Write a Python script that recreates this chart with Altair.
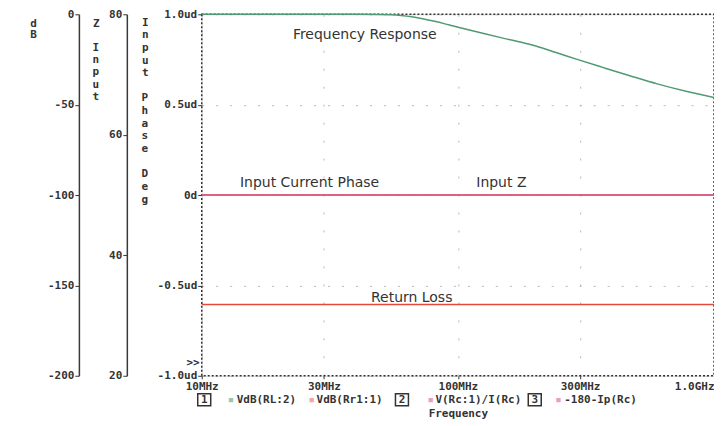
import altair as alt
import pandas as pd

# ---------------- data ----------------
# Frequency response VdB(RL:2)  (MHz, dB)
resp_freq = [10, 20, 40, 50, 55, 60, 66, 72, 82, 92, 104, 125, 150, 190, 240, 290, 370, 469, 600, 800, 1000]
resp_db = [0.0, 0.0, 0.0, -0.05, -0.25, -0.7, -1.4, -2.3, -4.0, -5.8, -7.7, -10.5, -13.2, -16.6, -21.0, -24.8, -29.5, -34.0, -38.5, -43.0, -46.0]

# Return loss VdB(Rr1:1) (dB)
rl_freq = [10, 1000]
rl_db = [-160.5, -160.5]

# Input Z  V(Rc:1)/I(Rc) (ohm)
z_freq = [10, 1000]
z_ohm = [50.0, 50.0]

# Input current phase  -180-Ip(Rc) (ud)
ph_freq = [10, 1000]
ph_ud = [0.0, 0.0]

# annotation texts (placed in phase-axis data coordinates)
ann_text = ["Frequency Response", "Input Current Phase", "Input Z", "Return Loss"]
ann_freq = [22.7, 14.1, 118, 45.8]
ann_ud = [0.884, 0.064, 0.064, -0.568]

legend_labels = ["VdB(RL:2)", "VdB(Rr1:1)", "V(Rc:1)/I(Rc)", "-180-Ip(Rc)"]
legend_nums = ["1", "2", "3"]

x_ticks = [10, 30, 100, 300, 1000]
db_ticks = [-200, -150, -100, -50, 0]
z_ticks = [20, 40, 60, 80]
ph_ticks = [-1.0, -0.5, 0.0, 0.5, 1.0]

# ---------------- styles ----------------
GREEN = "#4f9a72"
PINK = "#d9587e"
RED = "#e5473a"
INK = "#333333"
MONO = "DejaVu Sans Mono"
W, H = 513, 362

resp_df = pd.DataFrame({"f": resp_freq, "v": resp_db})
rl_df = pd.DataFrame({"f": rl_freq, "v": rl_db})
z_df = pd.DataFrame({"f": z_freq, "v": z_ohm})
ph_df = pd.DataFrame({"f": ph_freq, "v": ph_ud})
ann_df = pd.DataFrame({"f": ann_freq, "v": ann_ud, "t": ann_text})

x_enc = alt.X(
    "f:Q",
    scale=alt.Scale(type="log", domain=[10, 1000], nice=False),
    axis=alt.Axis(
        values=x_ticks,
        labelExpr="datum.value == 10 ? '10MHz' : datum.value == 30 ? '30MHz' : datum.value == 100 ? '100MHz' : datum.value == 300 ? '300MHz' : '1.0GHz'",
        labelAlign={"condition": {"test": "datum.value >= 1000", "value": "right"}, "value": "center"},
        labelFlush=False,
        labelFont=MONO,
        labelFontWeight="bold",
        labelFontSize=11,
        labelColor=INK,
        labelPadding=2,
        domain=False,
        grid=True,
        gridDash=[2, 16],
        gridColor="#b8b8b8",
        tickSize=3,
        tickColor=INK,
        title="Frequency",
        titleFont=MONO,
        titleFontWeight="bold",
        titleFontSize=11,
        titleColor=INK,
        titlePadding=16,
    ),
)

common_axis = dict(
    orient="left",
    labelFont=MONO,
    labelFontWeight="bold",
    labelFontSize=11,
    labelColor=INK,
    titleFont=MONO,
    titleFontWeight="bold",
    titleFontSize=11,
    titleColor=INK,
    titleAngle=0,
    titleAlign="center",
    titleBaseline="top",
    tickColor=INK,
    tickSize=4,
    labelPadding=1,
)

db_y = alt.Y(
    "v:Q",
    scale=alt.Scale(domain=[-200, 0], nice=False, zero=False),
    axis=alt.Axis(
        values=db_ticks,
        labelExpr="datum.value < 0 ? '-' + abs(datum.value) : '' + datum.value",
        offset=123,
        domain=True,
        domainColor="#3a3a3a",
        domainWidth=1.5,
        grid=False,
        title=["d", "B"],
        titleX=-46,
        titleY=3,
        titleLineHeight=11.5,
        **common_axis,
    ),
)

Z_LH = 12.3
z_y = alt.Y(
    "v:Q",
    scale=alt.Scale(domain=[20, 80], nice=False, zero=False),
    axis=alt.Axis(
        values=z_ticks,
        offset=75,
        domain=True,
        domainColor="#3a3a3a",
        domainWidth=1.5,
        grid=False,
        title="Z",
        titleX=-31,
        titleY=3,
        **common_axis,
    ),
)

P_LH = 12.7
ph_y = alt.Y(
    "v:Q",
    scale=alt.Scale(domain=[-1, 1], nice=False, zero=False),
    axis=alt.Axis(
        values=ph_ticks,
        labelExpr="datum.value == 1 ? '1.0ud' : datum.value == 0.5 ? '0.5ud' : datum.value == 0 ? '0d' : datum.value == -0.5 ? '-0.5ud' : '-1.0ud'",
        domain=False,
        grid=True,
        gridDash=[2, 12],
        gridColor="#b8b8b8",
        title=["I", "n", "p", "u", "t"],
        titleX=-57,
        titleY=2,
        titleLineHeight=P_LH,
        **common_axis,
    ),
)

one = pd.DataFrame({"k": [0]})


def stack(word, x, y, lh):
    """vertical (stacked-letter) continuation of an axis title"""
    return alt.Chart(one).mark_text(
        align="center", baseline="top", font=MONO, fontWeight="bold", fontSize=11,
        color=INK, lineBreak="\n", lineHeight=lh,
    ).encode(x=alt.value(x), y=alt.value(y), text=alt.value("\n".join(word)))


title_layers = [
    stack("Input", -106, 3 + 2 * Z_LH, Z_LH),
    stack("Phase", -57, 2 + 6 * P_LH, P_LH),
    stack("Deg", -57, 2 + 12 * P_LH, P_LH),
]

# dashed plot frame
frame = alt.Chart(one).mark_rect(
    fillOpacity=0, stroke=INK, strokeWidth=1.5, strokeDash=[2, 2]
).encode(x=alt.value(0), x2=alt.value(W), y=alt.value(0), y2=alt.value(H))

db_layer = alt.layer(
    alt.Chart(resp_df).mark_line(color=GREEN, strokeWidth=1.5, interpolate="monotone").encode(x=x_enc, y=db_y),
    alt.Chart(rl_df).mark_line(color=RED, strokeWidth=1.5).encode(x=x_enc, y=db_y),
)
z_layer = alt.Chart(z_df).mark_line(color=PINK, strokeWidth=1.5).encode(x=x_enc, y=z_y)
ph_layer = alt.layer(
    alt.Chart(ph_df).mark_line(color=PINK, strokeWidth=1.5).encode(x=x_enc, y=ph_y),
    alt.Chart(ann_df).mark_text(align="left", baseline="middle", font="DejaVu Sans", fontSize=14, color=INK).encode(
        x=x_enc, y=ph_y, text="t:N"
    ),
)

# ---------------- legend row under the x axis ----------------
LY = 386


def txt(s, x, color=INK, align="left", y=LY, size=11):
    return alt.Chart(one).mark_text(
        align=align, baseline="middle", font=MONO, fontWeight="bold", fontSize=size, color=color
    ).encode(x=alt.value(x), y=alt.value(y), text=alt.value(s))


def box(x0):
    return alt.Chart(one).mark_rect(fillOpacity=0, stroke=INK, strokeWidth=1.5).encode(
        x=alt.value(x0), x2=alt.value(x0 + 13), y=alt.value(LY - 6), y2=alt.value(LY + 6)
    )


legend_layers = [
    box(-4), txt(legend_nums[0], 2.5, align="center"),
    txt("\u25aa", 26, color="#9cc7ad"), txt(legend_labels[0], 35),
    txt("\u25aa", 107, color="#f0a8a2"), txt(legend_labels[1], 115),
    box(194), txt(legend_nums[1], 200.5, align="center"),
    txt("\u25aa", 226, color="#eaa0b8"), txt(legend_labels[2], 234),
    box(327), txt(legend_nums[2], 333.5, align="center"),
    txt("\u25aa", 354, color="#eaa0b8"), txt(legend_labels[3], 363),
    txt(">>", -2, align="right", y=H - 13),
]

chart = (
    alt.layer(frame, db_layer, z_layer, ph_layer, *title_layers, *legend_layers)
    .resolve_scale(y="independent")
    .properties(
        width=W,
        height=H,
        autosize=alt.AutoSizeParams(type="none"),
        padding={"left": 194, "top": 6, "right": 0, "bottom": 48},
    )
    .configure_view(strokeWidth=0)
    .configure(background="white")
)

chart.save("out.html", embed_options={"renderer": "svg", "actions": False})
